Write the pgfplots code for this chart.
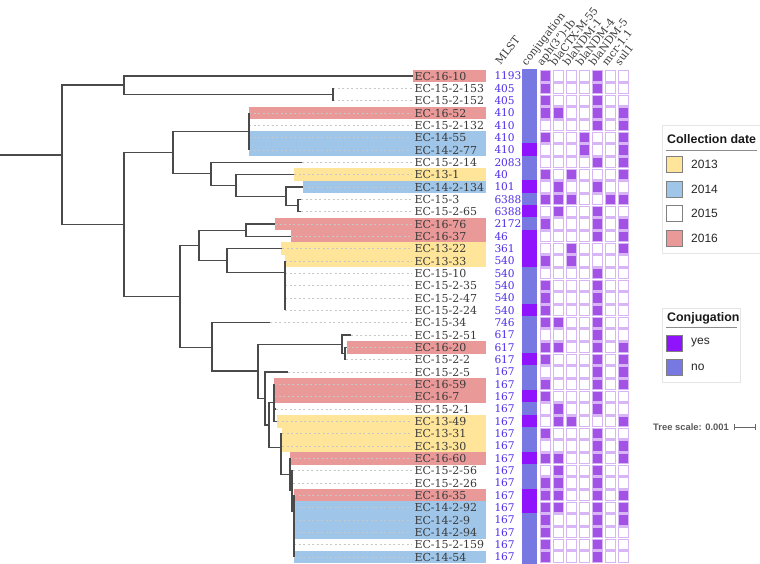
\documentclass[border=0pt]{standalone}
\usepackage{pgfplots}
\pgfplotsset{compat=1.18}
\usepackage{pgfplotstable}
\usepackage{fontspec}
\setmainfont{DejaVu Serif}
\newfontfamily\lsans{Liberation Sans}

\definecolor{c13}{HTML}{FFE599}
\definecolor{c14}{HTML}{9FC5E8}
\definecolor{c16}{HTML}{EA9999}
\definecolor{cyes}{HTML}{9013FE}
\definecolor{cno}{HTML}{7878E3}
\definecolor{cfill}{HTML}{A352E6}
\definecolor{cedge}{HTML}{D8B6F6}
\definecolor{cmlst}{HTML}{4F2DEB}
\definecolor{ctree}{HTML}{4A4A4A}
\definecolor{clab}{HTML}{3A3A3A}

\pgfplotstableread{
row name mlst conj aph ctx ndmA ndmB ndmC mcr sul leaf
1 EC-16-10 1193 0 1 0 0 0 1 0 0 413
2 EC-15-2-153 405 0 1 0 0 0 1 0 0 333
3 EC-15-2-152 405 0 1 0 0 0 1 0 0 333
4 EC-16-52 410 0 1 1 0 0 1 0 1 249
5 EC-15-2-132 410 0 0 0 0 0 1 0 1 249
6 EC-14-55 410 0 1 0 0 1 0 0 1 249
7 EC-14-2-77 410 1 0 0 0 1 0 0 1 249
8 EC-15-2-14 2083 0 0 0 0 0 1 0 1 302
9 EC-13-1 40 0 1 0 1 0 0 0 1 294
10 EC-14-2-134 101 1 0 1 0 0 1 0 0 303
11 EC-15-3 6388 0 1 1 1 0 0 1 1 301
12 EC-15-2-65 6388 1 0 1 0 0 1 0 0 301
13 EC-16-76 2172 0 1 0 0 0 1 0 1 275
14 EC-16-37 46 1 0 0 0 0 1 0 1 291
15 EC-13-22 361 1 0 0 1 0 0 0 1 282
16 EC-13-33 540 1 1 0 1 0 0 0 0 285
17 EC-15-10 540 0 0 0 0 0 1 0 0 285
18 EC-15-2-35 540 0 1 0 0 0 1 0 0 285
19 EC-15-2-47 540 0 1 0 0 0 1 0 0 285
20 EC-15-2-24 540 1 1 0 0 0 1 0 0 285
21 EC-15-34 746 0 1 1 0 0 1 0 0 270
22 EC-15-2-51 617 0 0 0 0 0 1 0 0 351
23 EC-16-20 617 0 1 1 0 0 1 0 1 347
24 EC-15-2-2 617 1 1 0 0 0 1 0 1 346
25 EC-15-2-5 167 0 0 0 0 0 1 0 1 288
26 EC-16-59 167 0 1 0 0 0 1 0 1 274
27 EC-16-7 167 1 1 0 0 0 1 0 0 274
28 EC-15-2-1 167 0 0 1 0 0 1 0 0 276
29 EC-13-49 167 1 0 1 1 0 0 0 1 277
30 EC-13-31 167 0 1 0 0 0 1 0 0 282
31 EC-13-30 167 0 0 0 0 0 1 0 1 282
32 EC-16-60 167 1 1 1 0 0 1 0 1 290
33 EC-15-2-56 167 0 0 1 0 0 1 0 0 293
34 EC-15-2-26 167 0 1 1 0 0 1 0 0 293
35 EC-16-35 167 1 1 1 0 0 1 0 1 294
36 EC-14-2-92 167 1 1 1 0 0 1 0 1 294
37 EC-14-2-9 167 0 1 0 0 0 1 0 1 294
38 EC-14-2-94 167 0 1 0 0 0 1 0 0 294
39 EC-15-2-159 167 0 1 0 0 0 1 0 0 294
40 EC-14-54 167 0 1 0 0 0 1 0 0 294
}\data

\pgfplotsset{
  hm/.style={scatter, only marks, scatter src=explicit symbolic,
    scatter/classes={0={mark=square*, draw=cedge, fill=white}, 1={mark=square*, draw=cedge, fill=cfill}},
    mark size=5.3pt, mark options={line width=1.3pt}},
  nomark/.style={only marks, mark=*, mark size=0pt, mark options={draw=none, fill=none, opacity=0}},
  lab/.style={nomark, nodes near coords, point meta=explicit symbolic,
    every node near coord/.append style={anchor=west, inner sep=0pt, outer sep=0pt, opacity=1}},
}

\begin{document}
\begin{tikzpicture}
\useasboundingbox (0,0) rectangle (760pt,564pt);
\begin{axis}[at={(0,0)}, anchor=south west, scale only axis, width=760pt, height=564pt,
  xmin=0, xmax=760, ymin=-5.162, ymax=40.568, y dir=reverse, hide axis, clip=false,
  unbounded coords=jump]

% collection-date highlights
\addplot[c16, line width=12.45pt] coordinates {
(413,1)(486,1) (nan,nan) (249,4)(486,4) (nan,nan) (275,13)(486,13) (nan,nan) (291,14)(486,14) (nan,nan)
(347,23)(486,23) (nan,nan) (274,26)(486,26) (nan,nan) (274,27)(486,27) (nan,nan) (290,32)(486,32) (nan,nan) (294,35)(486,35)};
\addplot[c14, line width=12.45pt] coordinates {
(249,6)(486,6) (nan,nan) (249,7)(486,7) (nan,nan) (303,10)(486,10) (nan,nan) (294,36)(486,36) (nan,nan)
(294,37)(486,37) (nan,nan) (294,38)(486,38) (nan,nan) (294,40)(486,40)};
\addplot[c13, line width=12.45pt] coordinates {
(294,9)(486,9) (nan,nan) (281,15)(486,15) (nan,nan) (285,16)(486,16) (nan,nan) (277,29)(486,29) (nan,nan)
(282,30)(486,30) (nan,nan) (282,31)(486,31)};

% dashed leaders
\addplot[nomark, error bars/.cd, x dir=plus, x explicit, error mark=none,
  error bar style={draw=black!22, opacity=1, line width=0.7pt, dash pattern=on 2pt off 2.5pt}]
  table[x=leaf, y=row, x error expr=412-\thisrow{leaf}] {\data};

% tree
\addplot[ctree, line width=1.3pt] coordinates {
(0,7.41)(62,7.41) (nan,nan)
(124,1.73)(62,1.73)(62,13.03)(124,13.03) (nan,nan)
(413,1)(124,1)(124,2.5)(333,2.5) (nan,nan)
(333,2)(333,3) (nan,nan)
(173,7.22)(124,7.22)(124,18.86)(180,18.86) (nan,nan)
(249,5.5)(173,5.5)(173,8.93)(211,8.93) (nan,nan)
(249,4)(249,7) (nan,nan)
(302,8)(211,8)(211,9.86)(236,9.86) (nan,nan)
(294,9)(236,9)(236,10.75)(286,10.75) (nan,nan)
(303,10)(286,10)(286,11.5)(298,11.5) (nan,nan)
(301,11)(298,11)(298,12)(301,12) (nan,nan)
(199,14.76)(180,14.76)(180,23.0)(212,23.0) (nan,nan)
(246,13.5)(199,13.5)(199,15.98)(227,15.98) (nan,nan)
(275,13)(246,13)(246,14)(291,14) (nan,nan)
(282,15)(227,15)(227,16.95)(285,16.95) (nan,nan)
(285,16)(285,20) (nan,nan)
(270,21)(212,21)(212,24.92)(258,24.92) (nan,nan)
(342,22.75)(258,22.75)(258,27.13)(265,27.13) (nan,nan)
(351,22)(342,22)(342,23.5)(345,23.5) (nan,nan)
(347,23)(345,23)(345,24)(346,24) (nan,nan)
(288,25)(265,25)(265,29.3)(269,29.3) (nan,nan)
(274,27.5)(269,27.5)(269,31.1)(281,31.1) (nan,nan)
(274,26)(274,29)(277,29) (nan,nan)
(274,28)(276,28) (nan,nan)
(282,30)(281,30)(281,33.3)(290,33.3) (nan,nan)
(281,31)(282,31) (nan,nan)
(290,32)(290,34.6)(292,34.6) (nan,nan)
(293,33)(292,33)(292,36.3)(294,36.3) (nan,nan)
(292,34)(293,34) (nan,nan)
(294,35)(294,40)};

% leaf labels and MLST
\addplot[lab, every node near coord/.append style={text=clab, font=\fontsize{11}{11}\selectfont}]
  table[x expr=414.5, y=row, meta=name] {\data};
\addplot[lab, every node near coord/.append style={text=cmlst, font=\fontsize{10.6}{11}\selectfont}]
  table[x expr=494.5, y=row, meta=mlst] {\data};

% conjugation strip
\addplot[scatter, only marks, scatter src=explicit symbolic,
  scatter/classes={0={mark=square*, cno}, 1={mark=square*, cyes}},
  mark size=6.25pt, mark options={xscale=1.13, line width=0pt}]
  table[x expr=529.7, y=row, meta=conj] {\data};

% gene heatmap
\addplot[hm] table[x expr=545.5, y=row, meta=aph] {\data};
\addplot[hm] table[x expr=558.5, y=row, meta=ctx] {\data};
\addplot[hm] table[x expr=571.5, y=row, meta=ndmA] {\data};
\addplot[hm] table[x expr=584.5, y=row, meta=ndmB] {\data};
\addplot[hm] table[x expr=597.5, y=row, meta=ndmC] {\data};
\addplot[hm] table[x expr=610.5, y=row, meta=mcr] {\data};
\addplot[hm] table[x expr=623.5, y=row, meta=sul] {\data};

% column headers
\begin{scope}[every node/.style={anchor=base west, rotate=52, inner sep=0pt, text=clab, font=\fontsize{10.6}{10.6}\selectfont}]
\node at (axis cs:500.5,0.15) {MLST};
\node at (axis cs:526.5,0.22) {conjugation};
\node at (axis cs:542,0.22) {aph(3'')-Ib};
\node at (axis cs:555,0.22) {blaCTX-M-55};
\node at (axis cs:568,0.22) {blaNDM-1};
\node at (axis cs:581,0.22) {blaNDM-4};
\node at (axis cs:594,0.22) {blaNDM-5};
\node at (axis cs:607,0.22) {mcr-1.1};
\node at (axis cs:620,0.22) {sul1};
\end{scope}

% legends
\draw[black!10] (axis cs:662,4.97) rectangle (axis cs:765,15.35);
\node[anchor=base west, inner sep=0pt, font=\lsans\bfseries\fontsize{12.4}{13}\selectfont, text=black!90] at (axis cs:667,6.46) {Collection date};
\draw[black!45, line width=1pt] (axis cs:666,7.06) -- (axis cs:757,7.06);
\draw[black!50, line width=0.9pt, fill=c13] (axis cs:666,7.49) rectangle (axis cs:682,8.79);
\draw[black!50, line width=0.9pt, fill=c14] (axis cs:666,9.51) rectangle (axis cs:682,10.81);
\draw[black!50, line width=0.9pt, fill=white] (axis cs:666,11.46) rectangle (axis cs:682,12.76);
\draw[black!50, line width=0.9pt, fill=c16] (axis cs:666,13.49) rectangle (axis cs:682,14.79);
\begin{scope}[every node/.style={anchor=west, inner sep=0pt, font=\lsans\fontsize{12}{13}\selectfont, text=black!85}]
\node at (axis cs:691,8.14) {2013};
\node at (axis cs:691,10.16) {2014};
\node at (axis cs:691,12.11) {2015};
\node at (axis cs:691,14.14) {2016};
\node at (axis cs:691,22.65) {yes};
\node at (axis cs:691,24.6) {no};
\end{scope}
\draw[black!10] (axis cs:662,19.81) rectangle (axis cs:740,25.81);
\node[anchor=base west, inner sep=0pt, font=\lsans\bfseries\fontsize{12.4}{13}\selectfont, text=black!90] at (axis cs:667,20.92) {Conjugation};
\draw[black!45, line width=1pt] (axis cs:666,21.43) -- (axis cs:737,21.43);
\draw[black!50, line width=0.9pt, fill=cyes] (axis cs:666,22.0) rectangle (axis cs:682,23.3);
\draw[black!50, line width=0.9pt, fill=cno] (axis cs:666,23.95) rectangle (axis cs:682,25.25);

% tree scale
\node[anchor=west, inner sep=0pt, font=\lsans\bfseries\fontsize{9.4}{10}\selectfont, text=black!65] at (axis cs:653,29.46) {Tree scale: 0.001};
\draw[black!60, line width=0.9pt] (axis cs:734,29.46) -- (axis cs:755,29.46);
\draw[black!60, line width=0.9pt] (axis cs:734,29.2) -- (axis cs:734,29.72);
\draw[black!60, line width=0.9pt] (axis cs:755,29.2) -- (axis cs:755,29.72);
\end{axis}
\end{tikzpicture}
\end{document}
